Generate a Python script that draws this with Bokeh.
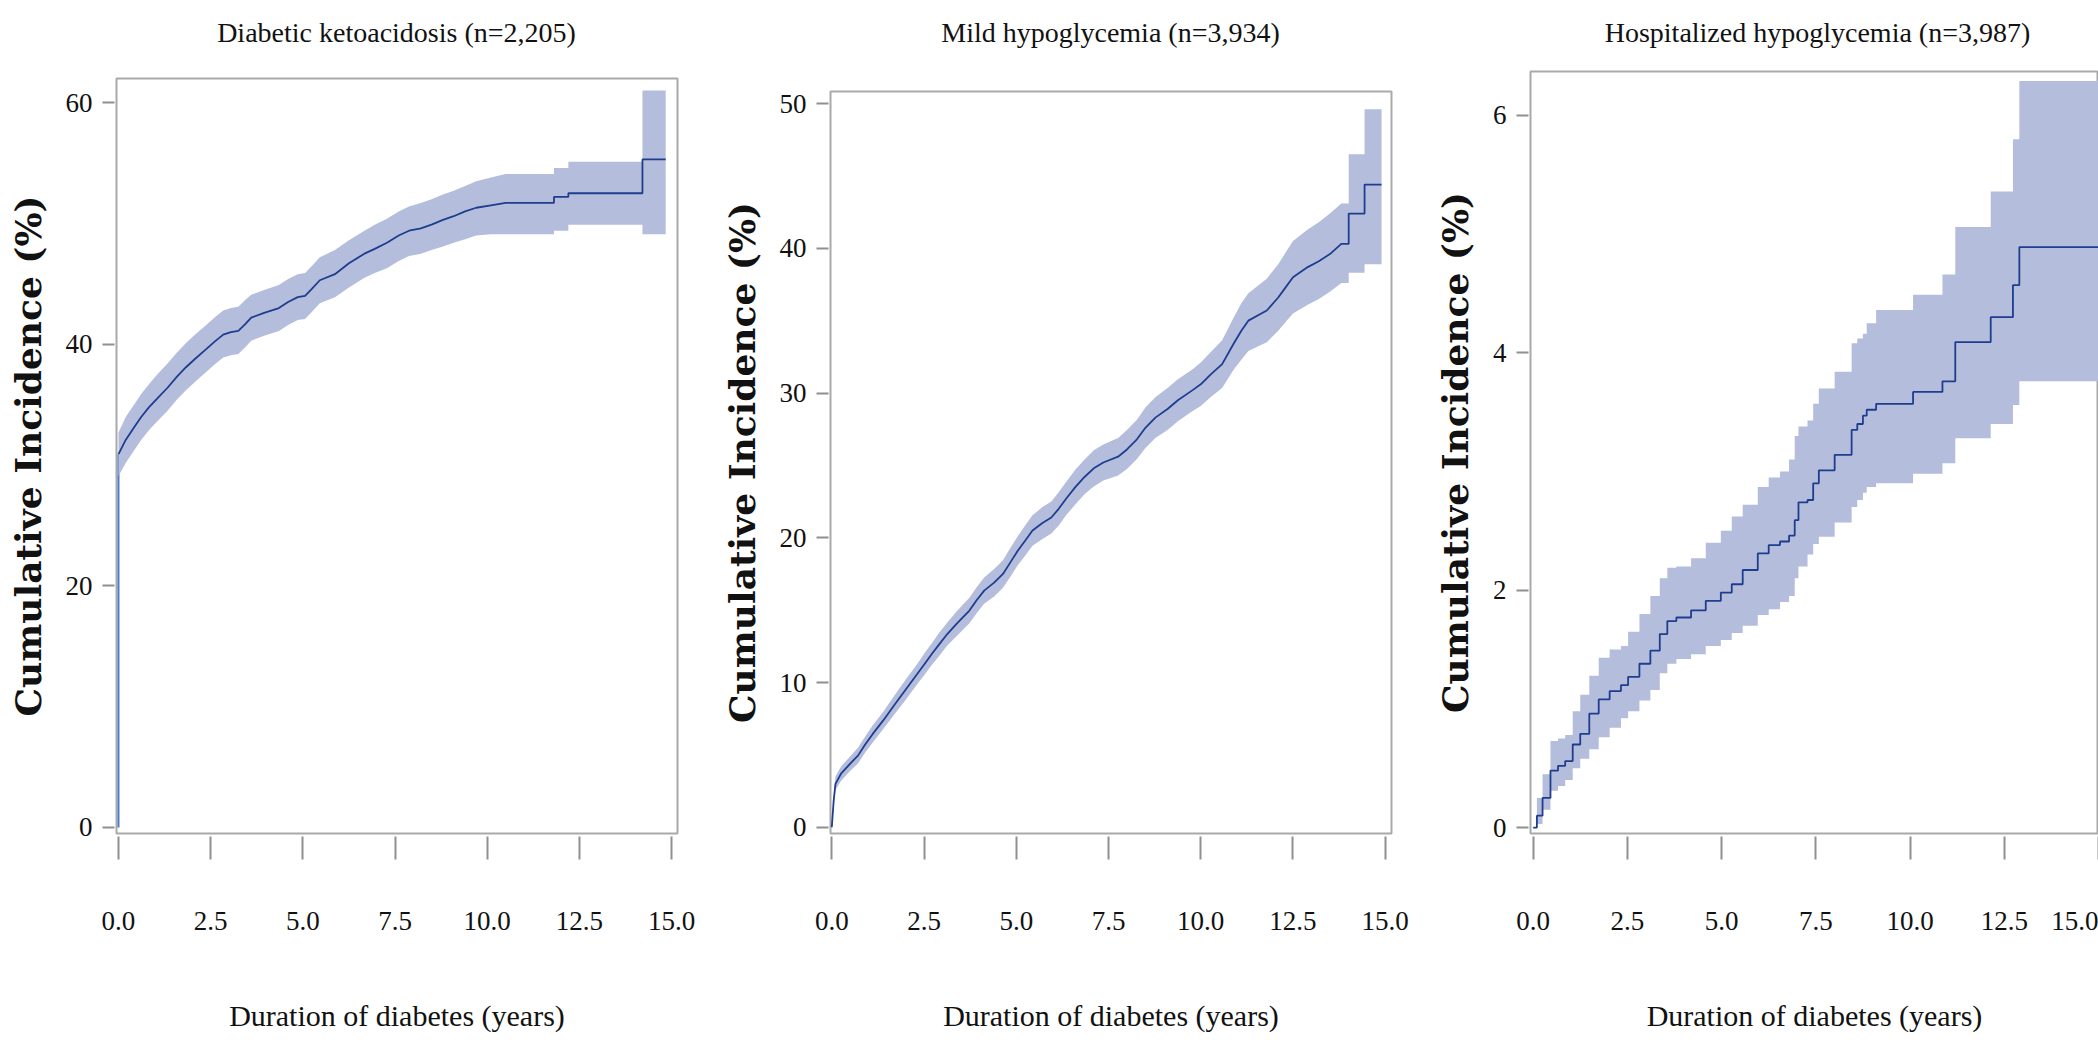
from bokeh.plotting import figure
from bokeh.layouts import row, column
from bokeh.models import FixedTicker, PrintfTickFormatter, Range1d
from bokeh.core.properties import value
from bokeh.embed import file_html
from bokeh.resources import INLINE

# ---- Diabetic ketoacidosis: cumulative incidence (%) with 95% band ----
# repeated years mark the vertical rise of a step
dka_title = "Diabetic ketoacidosis (n=2,205)"
dka_years = [0.0, 0.0, 0.2, 0.42, 0.62, 0.83, 1.08, 1.33, 1.58, 1.83, 2.08, 2.34, 2.6, 2.84, 3.05,
             3.25, 3.45, 3.6, 3.95, 4.35, 4.6, 4.86, 5.06, 5.25, 5.46, 5.87, 6.25, 6.67, 6.95, 7.28,
             7.6, 7.88, 8.2, 8.49, 8.8, 9.09, 9.4, 9.7, 10.1, 10.5, 11.81, 11.81, 12.2, 12.2,
             14.21, 14.21, 14.84]
dka_cif = [0.0, 30.9, 32.1, 33.1, 34.0, 34.8, 35.6, 36.4, 37.3, 38.1, 38.8, 39.5, 40.2, 40.8, 41.0,
           41.1, 41.7, 42.2, 42.6, 43.0, 43.5, 43.9, 44.0, 44.6, 45.3, 45.8, 46.7, 47.5, 47.9, 48.4,
           49.0, 49.4, 49.6, 49.9, 50.3, 50.6, 51.0, 51.3, 51.5, 51.7, 51.7, 52.2, 52.2, 52.5,
           52.5, 55.3, 55.3]
dka_lower = [0.0, 29.1, 30.2, 31.2, 32.1, 32.9, 33.7, 34.5, 35.4, 36.2, 36.9, 37.6, 38.3, 38.9, 39.1,
             39.2, 39.8, 40.3, 40.7, 41.1, 41.6, 42.0, 42.1, 42.7, 43.4, 43.9, 44.7, 45.5, 45.9, 46.3,
             46.9, 47.3, 47.5, 47.8, 48.1, 48.4, 48.7, 49.0, 49.1, 49.1, 49.1, 49.4, 49.4, 49.9,
             49.9, 49.1, 49.1]
dka_upper = [0.0, 32.7, 34.0, 35.0, 35.9, 36.7, 37.6, 38.4, 39.3, 40.1, 40.8, 41.5, 42.2, 42.8, 43.0,
             43.1, 43.7, 44.1, 44.5, 44.9, 45.4, 45.8, 45.9, 46.5, 47.2, 47.8, 48.6, 49.4, 49.9, 50.4,
             51.0, 51.4, 51.7, 52.0, 52.4, 52.7, 53.1, 53.5, 53.8, 54.1, 54.1, 54.6, 54.6, 55.1,
             55.1, 61.0, 61.0]
dka_yticks = [0, 20, 40, 60]

# ---- Mild hypoglycemia ----
mild_title = "Mild hypoglycemia (n=3,934)"
mild_years = [0.0, 0.05, 0.1, 0.25, 0.5, 0.71, 0.9, 1.11, 1.4, 1.71, 2.0, 2.32, 2.52, 2.72, 2.9,
              3.13, 3.4, 3.73, 3.93, 4.13, 4.4, 4.64, 4.84, 5.04, 5.24, 5.44, 5.7, 5.95, 6.15, 6.35,
              6.6, 6.85, 7.1, 7.36, 7.76, 8.0, 8.27, 8.5, 8.77, 9.1, 9.38, 9.78, 10.0, 10.28, 10.58,
              10.89, 11.1, 11.29, 11.79, 12.1, 12.3, 12.5, 12.9, 13.2, 13.5, 13.81, 14.01, 14.01,
              14.44, 14.44, 14.9]
mild_cif = [0.0, 1.8, 3.0, 3.7, 4.4, 4.95, 5.7, 6.45, 7.4, 8.5, 9.5, 10.6, 11.3, 12.0, 12.6,
            13.35, 14.1, 14.97, 15.7, 16.35, 16.9, 17.5, 18.3, 19.1, 19.8, 20.5, 21.0, 21.4, 22.0, 22.7,
            23.5, 24.2, 24.8, 25.2, 25.6, 26.1, 26.8, 27.6, 28.3, 28.9, 29.5, 30.2, 30.6, 31.3, 32.0,
            33.4, 34.3, 35.0, 35.7, 36.6, 37.3, 38.0, 38.7, 39.1, 39.6, 40.3, 40.3, 42.4,
            42.4, 44.4, 44.4]
mild_lower = [0.0, 1.4, 2.6, 3.2, 3.9, 4.4, 5.15, 5.85, 6.8, 7.85, 8.8, 9.9, 10.55, 11.25, 11.8,
              12.55, 13.25, 14.1, 14.8, 15.45, 15.95, 16.55, 17.3, 18.1, 18.75, 19.45, 19.9, 20.3, 20.85, 21.55,
              22.3, 23.0, 23.55, 23.95, 24.3, 24.75, 25.45, 26.2, 26.9, 27.45, 28.05, 28.75, 29.1, 29.75, 30.35,
              31.6, 32.3, 32.9, 33.5, 34.3, 34.9, 35.5, 36.1, 36.5, 37.0, 37.6, 37.6, 38.3,
              38.3, 38.9, 38.9]
mild_upper = [0.0, 2.2, 3.5, 4.2, 4.9, 5.5, 6.25, 7.05, 8.0, 9.15, 10.2, 11.3, 12.05, 12.75, 13.4,
              14.15, 14.95, 15.85, 16.6, 17.25, 17.85, 18.45, 19.3, 20.1, 20.85, 21.55, 22.1, 22.5, 23.15, 23.85,
              24.7, 25.4, 26.05, 26.45, 26.9, 27.45, 28.15, 29.0, 29.7, 30.35, 30.95, 31.65, 32.1, 32.85, 33.65,
              35.2, 36.2, 36.9, 37.9, 38.9, 39.7, 40.5, 41.3, 41.8, 42.4, 43.1, 43.1, 46.5,
              46.5, 49.6, 49.6]
mild_yticks = [0, 10, 20, 30, 40, 50]

# ---- Hospitalized hypoglycemia (drawn as right-continuous steps) ----
hosp_title = "Hospitalized hypoglycemia (n=3,987)"
hosp_years = [0.0, 0.1, 0.25, 0.46, 0.66, 0.85, 1.05, 1.25, 1.49, 1.74, 2.03, 2.33, 2.52, 2.82, 3.11,
              3.36, 3.56, 3.8, 4.19, 4.58, 4.98, 5.27, 5.56, 5.96, 6.25, 6.55, 6.79, 6.94, 7.04, 7.28,
              7.43, 7.58, 8.0, 8.45, 8.6, 8.75, 8.85, 9.1, 10.08, 10.86, 11.2, 12.14, 12.73, 12.9, 15.2]
hosp_cif = [0.0, 0.1, 0.25, 0.48, 0.52, 0.56, 0.7, 0.79, 0.96, 1.08, 1.15, 1.2, 1.27, 1.38, 1.49,
            1.63, 1.74, 1.77, 1.83, 1.91, 1.98, 2.05, 2.17, 2.31, 2.38, 2.41, 2.46, 2.59, 2.74, 2.76,
            2.9, 3.01, 3.14, 3.35, 3.4, 3.47, 3.52, 3.57, 3.67, 3.76, 4.09, 4.3, 4.57, 4.89, 4.89]
hosp_lower = [0.0, 0.03, 0.15, 0.31, 0.35, 0.4, 0.5, 0.58, 0.66, 0.76, 0.84, 0.92, 0.98, 1.07, 1.16,
              1.3, 1.38, 1.42, 1.46, 1.53, 1.58, 1.64, 1.7, 1.79, 1.84, 1.9, 1.95, 2.1, 2.2, 2.3,
              2.39, 2.45, 2.57, 2.7, 2.76, 2.82, 2.87, 2.9, 2.98, 3.07, 3.28, 3.4, 3.56, 3.76, 3.76]
hosp_upper = [0.0, 0.25, 0.45, 0.73, 0.75, 0.78, 0.98, 1.12, 1.28, 1.43, 1.5, 1.53, 1.65, 1.8, 1.95,
              2.1, 2.19, 2.2, 2.27, 2.4, 2.5, 2.62, 2.72, 2.87, 2.95, 3.0, 3.1, 3.3, 3.38, 3.43,
              3.57, 3.7, 3.84, 4.08, 4.12, 4.16, 4.25, 4.36, 4.49, 4.66, 5.06, 5.36, 5.8, 6.29, 6.29]
hosp_yticks = [0, 2, 4, 6]

x_ticks = [0, 2.5, 5, 7.5, 10, 12.5, 15]
x_title = "Duration of diabetes (years)"
y_title = "Cumulative Incidence (%)"

BAND = "#b4bddc"
LINE = "#1f3d8f"
JUMP = "#4a7cc9"
TICK = "#8f8f8f"
SERIF = "Liberation Serif"

PAGE_W = 2098
HEIGHT = 1043
STRIP_H = 60            # heading strip that carries the three panel titles
TITLE_BASELINE = 32     # baseline of the titles, from the top of the page
TITLE_CENTERS = [396, 1110, 1817]   # horizontal centres of the three frames
FRAME_BOTTOM = 833      # page row of every frame's lower edge


def make_panel(years, cif, lower, upper, yticks, xr, yr, width, left, right, frame_top, stepped):
    h = HEIGHT - STRIP_H
    p = figure(width=width, height=h,
               x_range=Range1d(*xr), y_range=Range1d(*yr),
               output_backend="svg", toolbar_location=None,
               min_border_left=left, min_border_right=right,
               min_border_top=frame_top - STRIP_H,
               min_border_bottom=HEIGHT - FRAME_BOTTOM)
    # each panel keeps its own frame position inside the row
    if "frame_align" in p.properties():
        p.frame_align = False
    p.grid.visible = False
    p.background_fill_color = "white"
    p.border_fill_color = "white"
    p.outline_line_color = "#a9a9a9"
    p.outline_line_width = 2

    # confidence band and estimate
    start = 0
    if years[0] == years[1]:
        p.segment(x0=[years[0]], y0=[cif[0]], x1=[years[1]], y1=[cif[1]],
                  line_color=JUMP, line_width=2)
        start = 1
    if stepped:
        p.varea_step(x=years, y1=lower, y2=upper, step_mode="after",
                     fill_color=BAND, fill_alpha=1.0)
        p.step(x=years[start:], y=cif[start:], mode="after",
               line_color=LINE, line_width=1.8)
    else:
        p.varea(x=years[start:], y1=lower[start:], y2=upper[start:],
                fill_color=BAND, fill_alpha=1.0)
        p.line(x=years[start:], y=cif[start:], line_color=LINE, line_width=1.8)

    xa = p.xaxis[0]
    xa.ticker = FixedTicker(ticks=x_ticks)
    xa.formatter = PrintfTickFormatter(format="%.1f")
    xa.axis_line_color = None
    xa.major_tick_in = -3
    xa.major_tick_out = 26
    xa.major_tick_line_color = TICK
    xa.major_tick_line_width = 2
    xa.minor_tick_line_color = None
    xa.major_label_standoff = 52
    xa.major_label_text_font = SERIF
    xa.major_label_text_font_size = "27px"
    xa.major_label_text_color = "#111111"
    xa.axis_label = x_title
    xa.axis_label_text_font = SERIF
    xa.axis_label_text_font_size = "30px"
    xa.axis_label_text_font_style = "normal"
    xa.axis_label_text_color = "#111111"
    xa.axis_label_standoff = 66

    ya = p.yaxis[0]
    ya.ticker = FixedTicker(ticks=yticks)
    ya.axis_line_color = None
    ya.major_tick_in = -2
    ya.major_tick_out = 14
    ya.major_tick_line_color = TICK
    ya.major_tick_line_width = 2
    ya.minor_tick_line_color = None
    ya.major_label_standoff = 10
    ya.major_label_text_font = SERIF
    ya.major_label_text_font_size = "27px"
    ya.major_label_text_color = "#111111"
    ya.axis_label = y_title
    ya.axis_label_text_font = "DejaVu Serif"
    ya.axis_label_text_font_size = "36px"
    ya.axis_label_text_font_style = "bold"
    ya.axis_label_text_color = "#111111"
    ya.axis_label_standoff = 14
    return p


# heading strip: page-pixel coordinates, titles centred over their frames
strip = figure(width=PAGE_W, height=STRIP_H,
               x_range=Range1d(0, PAGE_W), y_range=Range1d(0, STRIP_H),
               x_axis_type=None, y_axis_type=None,
               output_backend="svg", toolbar_location=None, min_border=0)
if "frame_align" in strip.properties():
    strip.frame_align = False
strip.grid.visible = False
strip.outline_line_color = None
strip.background_fill_color = "white"
strip.border_fill_color = "white"
strip.text(x=TITLE_CENTERS, y=[STRIP_H - TITLE_BASELINE] * 3,
           text=[dka_title, mild_title, hosp_title],
           text_font=value(SERIF), text_font_size=value("28px"),
           text_align="center", text_baseline="alphabetic", text_color="#111111")

p1 = make_panel(dka_years, dka_cif, dka_lower, dka_upper, dka_yticks,
                (-0.054, 15.16), (-0.5, 62.0), 700, 116, 23, 78, False)
p2 = make_panel(mild_years, mild_cif, mild_lower, mild_upper, mild_yticks,
                (-0.035, 15.17), (-0.43, 50.83), 720, 130, 29, 91, False)
p3 = make_panel(hosp_years, hosp_cif, hosp_lower, hosp_upper, hosp_yticks,
                (-0.07, 15.0), (-0.05, 6.37), 678, 110, 0, 71, True)

layout = column(strip, row(p1, p2, p3, spacing=0), spacing=0)
open("out.html", "w").write(file_html(layout, INLINE))
